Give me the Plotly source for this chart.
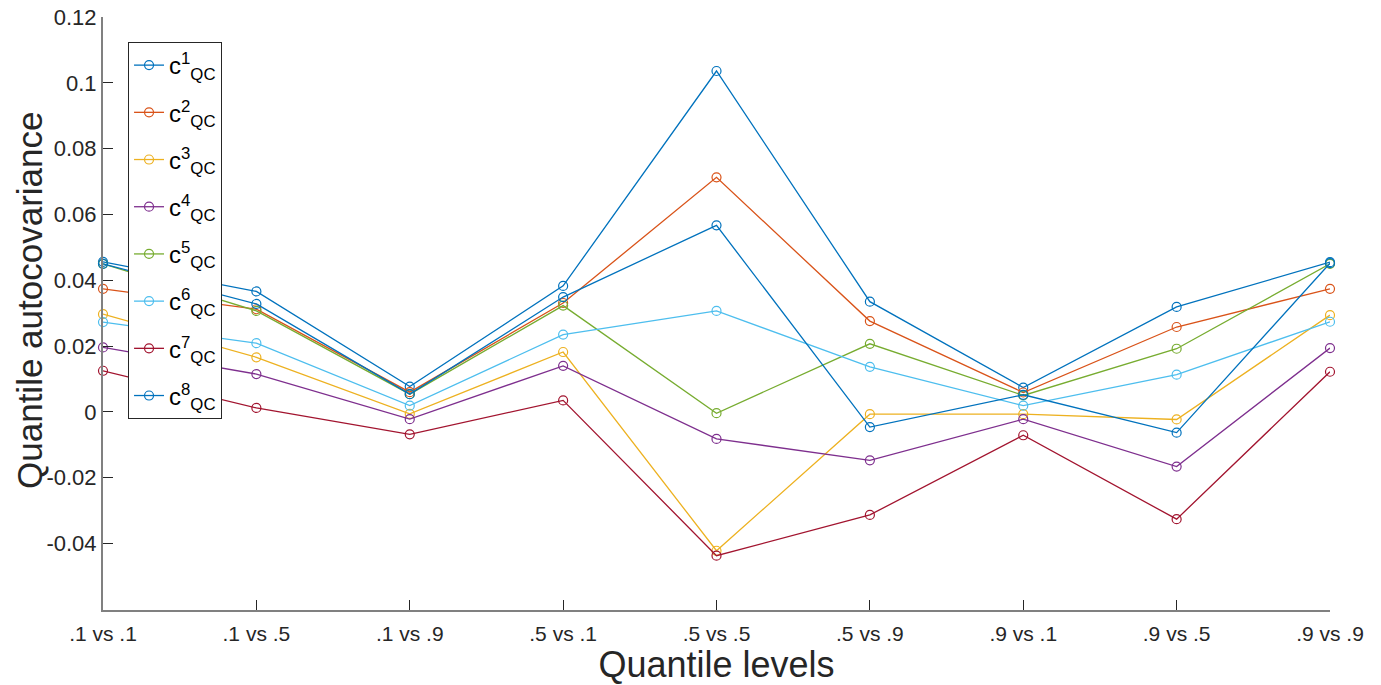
import plotly.graph_objects as go

categories = [".1 vs .1", ".1 vs .5", ".1 vs .9", ".5 vs .1", ".5 vs .5",
              ".5 vs .9", ".9 vs .1", ".9 vs .5", ".9 vs .9"]

c1 = [0.0456, 0.0366, 0.0077, 0.0383, 0.1036, 0.0335, 0.0074, 0.0319, 0.0455]
c2 = [0.0374, 0.0312, 0.0060, 0.0331, 0.0713, 0.0276, 0.0059, 0.0258, 0.0374]
c3 = [0.0297, 0.0166, -0.0006, 0.0182, -0.0422, -0.0007, -0.0007, -0.0023, 0.0294]
c4 = [0.0196, 0.0115, -0.0022, 0.0140, -0.0082, -0.0147, -0.0022, -0.0166, 0.0194]
c5 = [0.0450, 0.0307, 0.0054, 0.0323, -0.0004, 0.0207, 0.0050, 0.0192, 0.0450]
c6 = [0.0273, 0.0209, 0.0019, 0.0235, 0.0307, 0.0137, 0.0019, 0.0113, 0.0274]
c7 = [0.0125, 0.0012, -0.0068, 0.0035, -0.0437, -0.0313, -0.0071, -0.0326, 0.0122]
c8 = [0.0450, 0.0328, 0.0054, 0.0349, 0.0567, -0.0046, 0.0052, -0.0063, 0.0452]

series = [c1, c2, c3, c4, c5, c6, c7, c8]
names = ["c<sup>%d</sup><sub>QC</sub>" % (i + 1) for i in range(8)]
colors = ["#0072BD", "#D95319", "#EDB120", "#7E2F8E",
          "#77AC30", "#4DBEEE", "#A2142F", "#0072BD"]

ytickvals = [-0.04, -0.02, 0, 0.02, 0.04, 0.06, 0.08, 0.1, 0.12]
yticktext = ["-0.04", "-0.02", "0", "0.02", "0.04", "0.06", "0.08", "0.1", "0.12"]

x_title = "Quantile levels"
y_title = "Quantile autocovariance"

FONT = "Arial, Liberation Sans, Helvetica, sans-serif"

fig = go.Figure()
for i, (vals, nm, col) in enumerate(zip(series, names, colors)):
    fig.add_trace(go.Scatter(
        x=categories, y=vals, name=nm, mode="lines+markers",
        line=dict(color=col, width=1.3),
        marker=dict(symbol="circle-open", size=9, color=col, line=dict(width=1.2, color=col)),
        cliponaxis=False, legendgroup="g%d" % i,
    ))

fig.update_layout(
    width=1381, height=685,
    margin=dict(l=103, r=51, t=17, b=75),
    paper_bgcolor="white", plot_bgcolor="white",
    font=dict(family=FONT, color="#262626"),
    showlegend=True,
    legend=dict(
        x=0.0204, y=0.9578, xanchor="left", yanchor="top",
        bgcolor="white", bordercolor="#262626", borderwidth=1,
        font=dict(size=24, family=FONT, color="#000000"),
        tracegroupgap=13, itemwidth=30,
    ),
    xaxis=dict(
        type="category", range=[0, 8], automargin=False,
        tickmode="array", tickvals=categories, ticktext=categories,
        showgrid=False, zeroline=False,
        showline=True, linecolor="#808080", linewidth=2,
        ticks="inside", ticklen=10, tickcolor="#262626", tickwidth=1,
        tickfont=dict(size=21, family=FONT, color="#262626"),
        ticklabelstandoff=4,
        title=dict(text=x_title, font=dict(size=36, family=FONT, color="#262626"), standoff=4),
    ),
    yaxis=dict(
        range=[-0.0602, 0.12001], automargin=False,
        tickmode="array", tickvals=ytickvals, ticktext=yticktext,
        showgrid=False, zeroline=False,
        showline=True, linecolor="#808080", linewidth=2,
        ticks="inside", ticklen=10, tickcolor="#262626", tickwidth=1,
        tickfont=dict(size=22, family=FONT, color="#262626"),
    ),
    annotations=[dict(
        text=y_title, textangle=-90, xref="paper", yref="paper",
        x=-0.0595, y=0.5228, xanchor="center", yanchor="middle",
        showarrow=False, font=dict(size=35, family=FONT, color="#262626"),
    )],
)

fig.write_html("out.html")
